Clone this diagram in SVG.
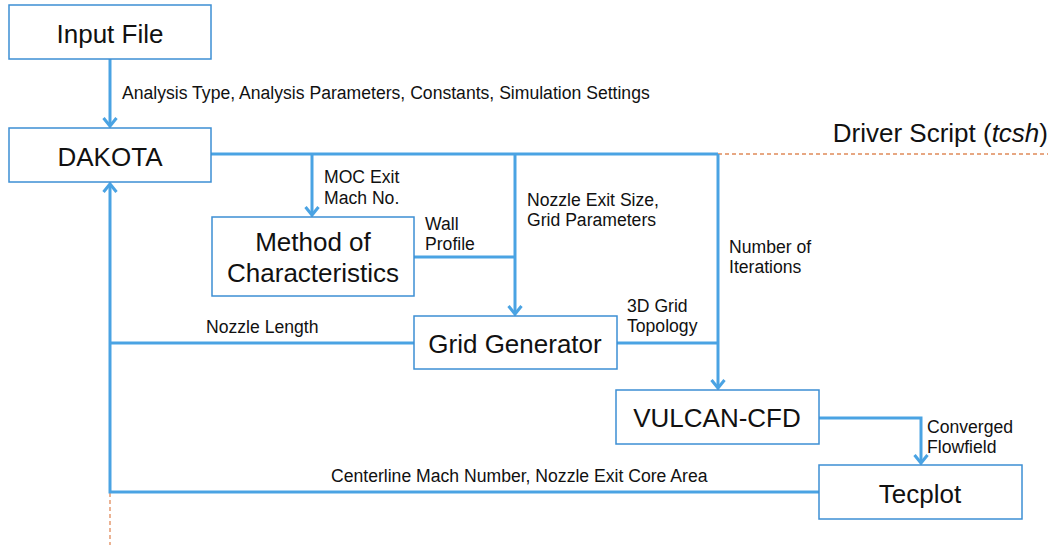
<svg xmlns="http://www.w3.org/2000/svg" width="1048" height="545" viewBox="0 0 1048 545">
<style>
.box{fill:#fff;stroke:#3d8fd4;stroke-width:1.5}
.big{font-family:"Liberation Sans",Arial,sans-serif;font-size:26px;fill:#111;text-anchor:middle}
.lbl{font-family:"Liberation Sans",Arial,sans-serif;font-size:17.6px;fill:#111}
.con{fill:none;stroke:#4aa3e3;stroke-width:3}
.drv{fill:none;stroke:#e08a5a;stroke-width:1.3;stroke-dasharray:4 3}
</style>
<defs>
<marker id="ah" markerUnits="userSpaceOnUse" markerWidth="20" markerHeight="20" viewBox="-10 -10 20 20" refX="0" refY="0" orient="auto">
<path d="M-8,-6.5 L0,0 L-8,6.5" fill="none" stroke="#4aa3e3" stroke-width="3"/>
</marker>
</defs>
<rect width="1048" height="545" fill="#fff"/>
<g id="connectors">
<path class="drv" d="M718,154 H1048"/>
<path class="drv" d="M110,493 V545"/>
<path class="con" d="M110,59 V126" marker-end="url(#ah)"/>
<path class="con" d="M211,154 H718"/>
<path class="con" d="M312,154 V215" marker-end="url(#ah)"/>
<path class="con" d="M515,154 V314" marker-end="url(#ah)"/>
<path class="con" d="M718,154 V388" marker-end="url(#ah)"/>
<path class="con" d="M414,257 H515"/>
<path class="con" d="M617,343 H718"/>
<path class="con" d="M414,343 H110"/>
<path class="con" d="M819,418 H921 V463" marker-end="url(#ah)"/>
<path class="con" d="M819,492 H110 V184" marker-end="url(#ah)"/>
<text class="lbl" x="122" y="99">Analysis Type, Analysis Parameters, Constants, Simulation Settings</text>
<text class="lbl" x="324" y="183">MOC Exit</text>
<text class="lbl" x="324" y="204">Mach No.</text>
<text class="lbl" x="527" y="206">Nozzle Exit Size,</text>
<text class="lbl" x="527" y="226">Grid Parameters</text>
<text class="lbl" x="425" y="230">Wall</text>
<text class="lbl" x="425" y="250">Profile</text>
<text class="lbl" x="729" y="253">Number of</text>
<text class="lbl" x="729" y="273">Iterations</text>
<text class="lbl" x="627" y="312">3D Grid</text>
<text class="lbl" x="627" y="332">Topology</text>
<text class="lbl" x="206" y="333">Nozzle Length</text>
<text class="lbl" x="927" y="433">Converged</text>
<text class="lbl" x="927" y="453">Flowfield</text>
<text class="lbl" x="331" y="482">Centerline Mach Number, Nozzle Exit Core Area</text>
</g>
<text class="big" x="1048" y="142" style="text-anchor:end">Driver Script (<tspan font-style="italic">tcsh</tspan>)</text>
<g id="input-file"><rect class="box" x="9" y="5" width="202" height="54"/><text class="big" x="110" y="43">Input File</text></g>
<g id="dakota"><rect class="box" x="9" y="128" width="202" height="54"/><text class="big" x="110" y="166">DAKOTA</text></g>
<g id="moc"><rect class="box" x="212" y="217" width="202" height="79"/><text class="big" x="313" y="251">Method of</text><text class="big" x="313" y="282">Characteristics</text></g>
<g id="grid-generator"><rect class="box" x="414" y="316" width="203" height="53"/><text class="big" x="515" y="353">Grid Generator</text></g>
<g id="vulcan"><rect class="box" x="616" y="390" width="203" height="54"/><text class="big" x="717" y="427">VULCAN-CFD</text></g>
<g id="tecplot"><rect class="box" x="819" y="465" width="203" height="54"/><text class="big" x="920" y="503">Tecplot</text></g>
</svg>
